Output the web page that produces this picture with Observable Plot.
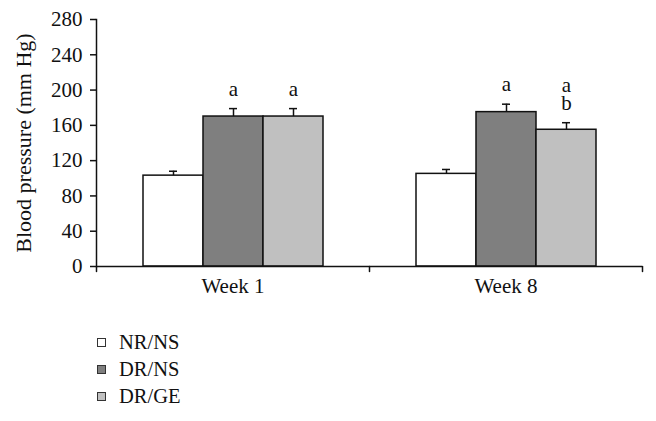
<!DOCTYPE html>
<html>
<head>
<meta charset="utf-8">
<script src="https://cdn.jsdelivr.net/npm/d3@7"></script>
<script src="https://cdn.jsdelivr.net/npm/@observablehq/plot@0.6"></script>
<style>
  html, body { margin: 0; padding: 0; background: #ffffff; }
  #chart { width: 656px; height: 421px; position: relative; font-family: "Liberation Serif", "DejaVu Serif", serif; }
  #legend { position: absolute; left: 96px; top: 329px; }
  .row { height: 27px; display: flex; align-items: center; font-size: 20.5px; color: #111; }
  .sw { width: 7px; height: 7px; border: 1px solid #333; margin-right: 13px; margin-left: 1px; }
  svg g[aria-label="y-axis label"] text { font-size: 22px; }
</style>
</head>
<body>
<div id="chart"></div>
<script>
const weeks = ["Week 1", "Week 8"];
const groups = ["NR/NS", "DR/NS", "DR/GE"];
const week1Means = [103, 170, 170];
const week1Upper = [108, 179, 179];
const week8Means = [105, 175, 155];
const week8Upper = [110, 184, 163];
const week1Letters = ["", "a", "a"];
const week8Letters = ["", "a", "a\nb"];
const groupColors = ["#ffffff", "#7f7f7f", "#c0c0c0"];
const yTicks = [0, 40, 80, 120, 160, 200, 240, 280];
const yLabel = "Blood pressure (mm Hg)";

const rows = [];
groups.forEach((g, i) => rows.push({week: weeks[0], group: g, mean: week1Means[i], upper: week1Upper[i], letter: week1Letters[i]}));
groups.forEach((g, i) => rows.push({week: weeks[1], group: g, mean: week8Means[i], upper: week8Upper[i], letter: week8Letters[i]}));

const tickShape = {draw(context, l) { context.moveTo(0, 0); context.lineTo(0, -l); }};

const plot = Plot.plot({
  width: 656,
  height: 310,
  marginLeft: 96,
  marginRight: 14,
  marginTop: 19,
  marginBottom: 44,
  style: {fontFamily: "'Liberation Serif', serif", fontSize: "20px", background: "white", color: "#111", overflow: "visible"},
  fx: {domain: weeks, padding: 0, label: null, axis: null},
  x: {domain: groups, paddingInner: 0, paddingOuter: 0.76, axis: null},
  y: {domain: [0, 280]},
  color: {domain: groups, range: groupColors},
  marks: [
    Plot.axisY({ticks: yTicks, tickSize: 6, tickPadding: 8, strokeWidth: 1.5, fontSize: 21,
      label: yLabel, labelAnchor: "center", labelArrow: "none", labelOffset: 81}),
    Plot.axisFx({anchor: "bottom", tickSize: 0, tickPadding: 12, fontSize: 21, label: null}),
    Plot.frame({anchor: "left", facetAnchor: "left", strokeWidth: 1.5}),
    Plot.barY(rows, {fx: "week", x: "group", y: "mean", fill: "group", stroke: "#111", strokeWidth: 1.5}),
    Plot.ruleY([0], {strokeWidth: 1.5}),
    Plot.ruleX(rows, {fx: "week", x: "group", y1: "mean", y2: "upper", stroke: "#111", strokeWidth: 1.5}),
    Plot.tickY(rows, {fx: "week", x: "group", y: "upper", insetLeft: 26, insetRight: 26, stroke: "#111", strokeWidth: 1.5}),
    Plot.text(rows, {fx: "week", x: "group", y: "upper", text: "letter", lineAnchor: "bottom", dy: -13, lineHeight: 0.85, fontSize: 21}),
    Plot.vector(weeks, {fx: d => d, frameAnchor: "bottom-right", length: 5, rotate: 180, anchor: "start", shape: tickShape, strokeWidth: 1.5}),
    Plot.vector([weeks[0]], {fx: d => d, frameAnchor: "bottom-left", length: 5, rotate: 180, anchor: "start", shape: tickShape, strokeWidth: 1.5})
  ]
});
const chart = document.getElementById("chart");
chart.appendChild(plot);

const legend = document.createElement("div");
legend.id = "legend";
groups.forEach((g, i) => {
  const row = document.createElement("div");
  row.className = "row";
  const sw = document.createElement("span");
  sw.className = "sw";
  sw.style.background = groupColors[i];
  const label = document.createElement("span");
  label.textContent = g;
  row.appendChild(sw);
  row.appendChild(label);
  legend.appendChild(row);
});
chart.appendChild(legend);
</script>
</body>
</html>
